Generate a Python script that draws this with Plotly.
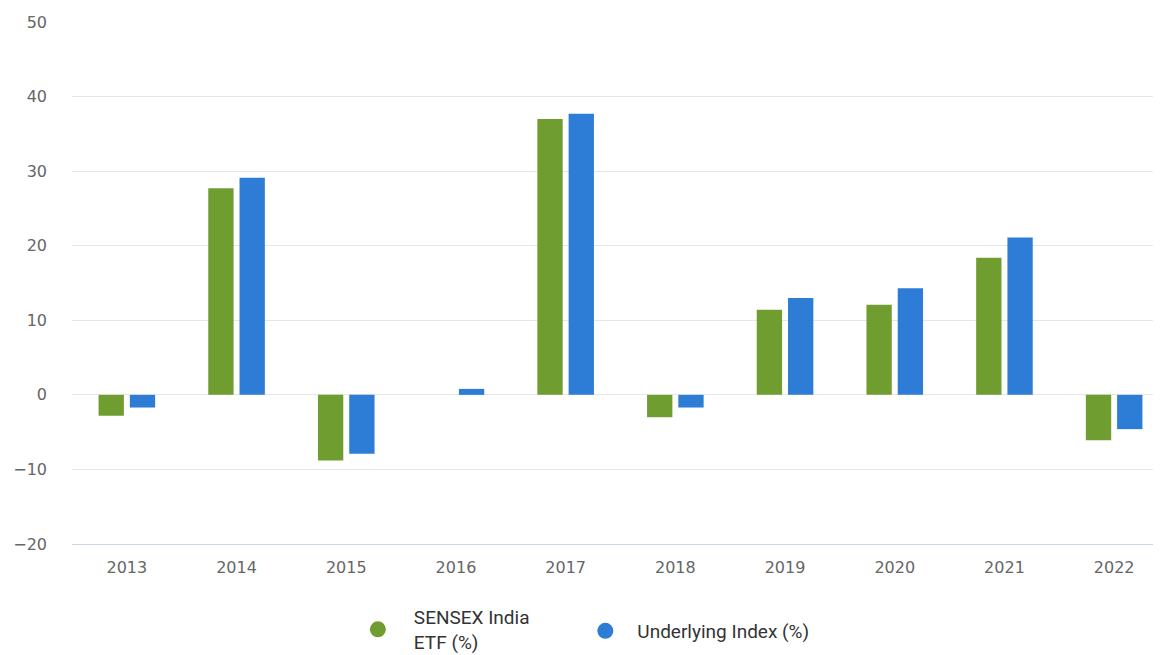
import plotly.graph_objects as go

years = ["2013", "2014", "2015", "2016", "2017", "2018", "2019", "2020", "2021", "2022"]
etf_values = [-2.8, 27.7, -8.8, 0.0, 37.0, -3.0, 11.4, 12.1, 18.4, -6.1]
index_values = [-1.7, 29.1, -7.9, 0.8, 37.7, -1.7, 13.0, 14.3, 21.1, -4.6]
series_names = ["SENSEX India<br>ETF (%)", "Underlying Index (%)"]
colors = ["#6f9d30", "#2d7dd6"]
y_ticks = [-20, -10, 0, 10, 20, 30, 40, 50]

fig = go.Figure()
for name, vals, col in zip(series_names, [etf_values, index_values], colors):
    fig.add_trace(go.Bar(x=years, y=vals, name=name, marker=dict(color=col, line=dict(width=0)),
                         showlegend=False))
for name, col, lg in zip(series_names, colors, ["legend", "legend2"]):
    fig.add_trace(go.Scatter(x=[None], y=[None], mode="markers", name=name, legend=lg,
                             marker=dict(symbol="circle", size=20, color=col)))

legend_font = dict(size=19, color="#333333", family="Roboto, Open Sans, sans-serif")
fig.update_layout(
    width=1161, height=655,
    margin=dict(l=64, r=0, t=14, b=119),
    plot_bgcolor="white", paper_bgcolor="white",
    barmode="group", bargap=0.43, bargroupgap=0.19,
    font=dict(family="Roboto, Open Sans, sans-serif", color="#333333"),
    legend=dict(orientation="h", x=0.246, xanchor="left", y=0.099, yanchor="top", yref="container",
                font=legend_font, itemwidth=62, bgcolor="rgba(0,0,0,0)", borderwidth=0),
    legend2=dict(orientation="h", x=0.457, xanchor="left", y=0.0779, yanchor="top", yref="container",
                 font=legend_font, itemwidth=54, bgcolor="rgba(0,0,0,0)", borderwidth=0),
)
fig.update_xaxes(type="category", showgrid=False, showline=True, linecolor="#ccd6eb", linewidth=1,
                 tickfont=dict(family="DejaVu Sans", size=16, color="#666666"), ticks="",
                 ticklabelstandoff=9, zeroline=False)
fig.update_yaxes(range=[-20, 50], tickvals=y_ticks, showgrid=True, gridcolor="#e6e6e6", gridwidth=1,
                 zeroline=False, showline=False,
                 tickfont=dict(family="DejaVu Sans", size=16, color="#666666"),
                 ticks="", ticklabelstandoff=24)

fig.write_html("out.html")
